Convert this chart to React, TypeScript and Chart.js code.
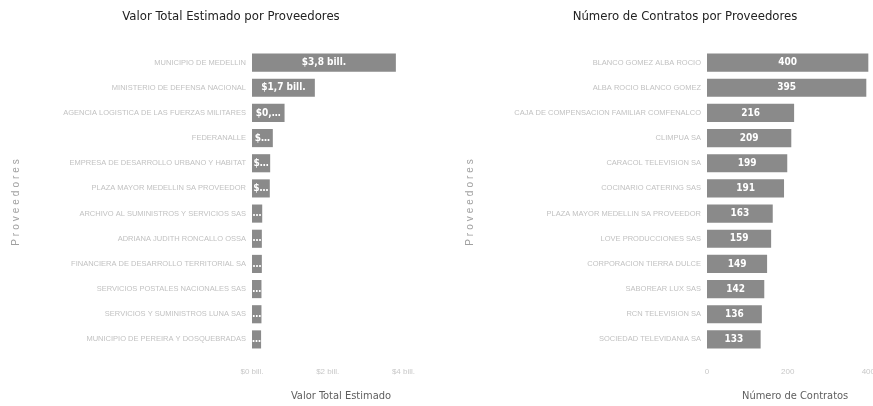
import React, { useEffect, useRef } from 'react';
import { Chart, registerables } from 'chart.js';

Chart.register(...registerables);

// ---------- Data ----------
const valorCategories = [
  'MUNICIPIO DE MEDELLIN',
  'MINISTERIO DE DEFENSA NACIONAL',
  'AGENCIA LOGISTICA DE LAS FUERZAS MILITARES',
  'FEDERANALLE',
  'EMPRESA DE DESARROLLO URBANO Y HABITAT',
  'PLAZA MAYOR MEDELLIN SA PROVEEDOR',
  'ARCHIVO AL SUMINISTROS Y SERVICIOS SAS',
  'ADRIANA JUDITH RONCALLO OSSA',
  'FINANCIERA DE DESARROLLO TERRITORIAL SA',
  'SERVICIOS POSTALES NACIONALES SAS',
  'SERVICIOS Y SUMINISTROS LUNA SAS',
  'MUNICIPIO DE PEREIRA Y DOSQUEBRADAS',
];
// billions of pesos
const valorValues = [3.8, 1.66, 0.86, 0.55, 0.48, 0.47, 0.27, 0.26, 0.26, 0.25, 0.25, 0.24];
const valorTicks = [0, 2, 4];
const valorTickLabels = ['$0 bill.', '$2 bill.', '$4 bill.'];

const contratosCategories = [
  'BLANCO GOMEZ ALBA ROCIO',
  'ALBA ROCIO BLANCO GOMEZ',
  'CAJA DE COMPENSACION FAMILIAR COMFENALCO',
  'CLIMPUA SA',
  'CARACOL TELEVISION SA',
  'COCINARIO CATERING SAS',
  'PLAZA MAYOR MEDELLIN SA PROVEEDOR',
  'LOVE PRODUCCIONES SAS',
  'CORPORACION TIERRA DULCE',
  'SABOREAR LUX SAS',
  'RCN TELEVISION SA',
  'SOCIEDAD TELEVIDANIA SA',
];
const contratosValues = [400, 395, 216, 209, 199, 191, 163, 159, 149, 142, 136, 133];
const contratosTicks = [0, 200, 400];
const contratosTickLabels = ['0', '200', '400'];

// ---------- Styling ----------
const NARROW = '"Liberation Sans Narrow", "DejaVu Sans Condensed", "Liberation Sans", sans-serif';
const SANS = '"Liberation Sans", Arial, sans-serif';
const BAR_COLOR = '#8a8a8a';

const titlePlugin = {
  id: 'posTitle',
  afterDraw(chart: any, _args: any, opts: any) {
    const ctx = chart.ctx;
    ctx.save();
    ctx.font = `${opts.size}px ${opts.family}`;
    ctx.fillStyle = opts.color;
    ctx.textAlign = 'center';
    ctx.textBaseline = 'middle';
    ctx.fillText(opts.text, opts.x, opts.y);
    ctx.restore();

    // y-axis title, letter-spaced, rotated
    const area = chart.chartArea;
    ctx.save();
    ctx.font = `${opts.ySize}px ${SANS}`;
    ctx.fillStyle = opts.yColor;
    try {
      (ctx as any).letterSpacing = opts.ySpacing + 'px';
    } catch (e) {}
    ctx.textAlign = 'center';
    ctx.textBaseline = 'middle';
    ctx.translate(opts.yX, (area.top + area.bottom) / 2);
    ctx.rotate(-Math.PI / 2);
    ctx.fillText(opts.yText, 0, 0);
    ctx.restore();
  },
};

const labelPlugin = {
  id: 'barLabels',
  afterDatasetsDraw(chart: any, _args: any, opts: any) {
    const ctx = chart.ctx;
    const meta = chart.getDatasetMeta(0);
    const data = chart.data.datasets[0].data;
    ctx.save();
    ctx.font = `bold ${opts.size}px ${opts.family}`;
    ctx.fillStyle = '#ffffff';
    ctx.textAlign = 'center';
    ctx.textBaseline = 'middle';
    meta.data.forEach((bar: any, i: number) => {
      const { x, y, base } = bar.getProps(['x', 'y', 'base'], true);
      const w = x - base;
      const avail = w - 2;
      let text = opts.format(data[i]);
      if (ctx.measureText(text).width > avail) {
        let t = text;
        while (t.length > 0 && ctx.measureText(t + '…').width > avail) t = t.slice(0, -1);
        text = t.trimEnd() + '…';
      }
      ctx.fillText(text, (x + base) / 2, y);
    });
    ctx.restore();
  },
};

function makeConfig(p: {
  categories: string[];
  values: number[];
  ticks: number[];
  tickLabels: string[];
  max: number;
  yWidth: number;
  yTitleX: number;
  title: string;
  titleX: number;
  xTitle: string;
  format: (v: number) => string;
}): any {
  return {
    type: 'bar',
    data: {
      labels: p.categories,
      datasets: [
        {
          data: p.values,
          backgroundColor: BAR_COLOR,
          borderWidth: 0,
        },
      ],
    },
    plugins: [titlePlugin, labelPlugin],
    options: {
      animation: false,
      responsive: false,
      indexAxis: 'y',
      layout: { padding: { top: 50, bottom: 0, left: 0, right: 0 } },
      plugins: {
        legend: { display: false },
        tooltip: { enabled: false },
        title: { display: false },
        posTitle: {
          text: p.title,
          x: p.titleX,
          y: 17,
          size: 13,
          family: NARROW,
          color: '#222222',
          yText: 'Proveedores',
          yX: p.yTitleX,
          ySize: 10,
          ySpacing: 3,
          yColor: '#a0a0a0',
        },
        barLabels: { size: 10, family: NARROW, format: p.format },
      },
      scales: {
        x: {
          min: 0,
          max: p.max,
          grid: { display: false, drawTicks: false, tickLength: 0 },
          border: { display: false },
          afterBuildTicks: (axis: any) => {
            axis.ticks = p.ticks.map((v) => ({ value: v }));
          },
          afterFit: (axis: any) => {
            axis.height = 54;
          },
          ticks: {
            padding: 15,
            color: '#c8c8c8',
            font: { size: 8, family: SANS },
            maxRotation: 0,
            autoSkip: false,
            callback: (v: any) => {
              const idx = p.ticks.indexOf(Number(v));
              return idx >= 0 ? p.tickLabels[idx] : '';
            },
          },
          title: {
            display: true,
            text: p.xTitle,
            color: '#5e5e5e',
            font: { size: 11, family: NARROW },
            padding: { top: 0, bottom: 3.5 },
          },
        },
        y: {
          grid: { display: false, drawTicks: false, tickLength: 0 },
          border: { display: false },
          afterFit: (axis: any) => {
            axis.width = p.yWidth;
          },
          ticks: {
            padding: 6,
            color: '#c2c2c2',
            font: { size: 7.5, family: SANS },
            autoSkip: false,
          },
          title: { display: false },
        },
      },
    },
  };
}

function useChart(ref: React.RefObject<HTMLCanvasElement | null>, cfg: () => any) {
  useEffect(() => {
    if (!ref.current) return;
    const chart = new Chart(ref.current, cfg());
    return () => chart.destroy();
  }, []);
}

export default function App() {
  const leftRef = useRef<HTMLCanvasElement>(null);
  const rightRef = useRef<HTMLCanvasElement>(null);

  useChart(leftRef, () =>
    makeConfig({
      categories: valorCategories,
      values: valorValues,
      ticks: valorTicks,
      tickLabels: valorTickLabels,
      max: 4.7,
      yWidth: 252,
      yTitleX: 16,
      title: 'Valor Total Estimado por Proveedores',
      titleX: 231,
      xTitle: 'Valor Total Estimado',
      format: (v: number) => '$' + v.toFixed(1).replace('.', ',') + ' bill.',
    })
  );

  useChart(rightRef, () =>
    makeConfig({
      categories: contratosCategories,
      values: contratosValues,
      ticks: contratosTicks,
      tickLabels: contratosTickLabels,
      max: 437,
      yWidth: 277,
      yTitleX: 40,
      title: 'Número de Contratos por Proveedores',
      titleX: 255,
      xTitle: 'Número de Contratos',
      format: (v: number) => String(v),
    })
  );

  return (
    <div
      style={{
        position: 'absolute',
        left: 0,
        top: 0,
        width: 873,
        height: 406,
        overflow: 'hidden',
        background: '#ffffff',
      }}
    >
      <canvas ref={leftRef} width={430} height={406} style={{ position: 'absolute', left: 0, top: 0 }} />
      <canvas ref={rightRef} width={460} height={406} style={{ position: 'absolute', left: 430, top: 0 }} />
    </div>
  );
}
